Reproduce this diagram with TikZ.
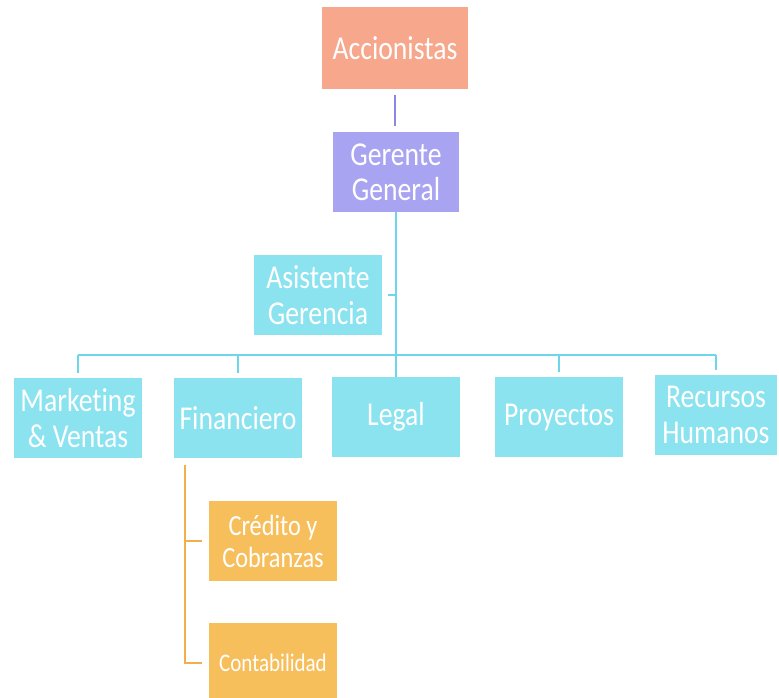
\documentclass[tikz,border=0pt]{standalone}
\usepackage{fontspec}
\setmainfont{Carlito}[FakeStretch=0.83, Ligatures=NoCommon]
\definecolor{salmon}{HTML}{F6A78C}
\definecolor{lav}{HTML}{A9A4F2}
\definecolor{cy}{HTML}{8CE3F0}
\definecolor{org}{HTML}{F7BE5C}
\definecolor{lav line}{HTML}{8C86E6}
\definecolor{cy line}{HTML}{6ED6EA}
\definecolor{org line}{HTML}{F2B04A}
\begin{document}
\begin{tikzpicture}[x=0.75pt,y=-0.75pt,
  box/.style={draw=none, text=white, align=center, inner sep=0pt,
    minimum width=96pt, minimum height=60pt,
    font=\fontsize{25}{26.5}\selectfont},
  cbox/.style={box, fill=cy},
  obox/.style={box, fill=org},
  cl/.style={draw=cy line, line width=1.5pt},
  pl/.style={draw=lav line, line width=1.5pt},
  ol/.style={draw=org line, line width=1.5pt}]
\useasboundingbox (0,0) rectangle (779,698);
\fill[white] (0,0) rectangle (779,698);

\node[box, fill=salmon, minimum width=109pt, minimum height=61pt] (acc) at (395,48) {Accionistas};
\node[box, fill=lav, minimum width=95pt] (ger) at (396,172) {Gerente\\General};
\node[cbox] (asi) at (318,295) {Asistente\\Gerencia};

\node[cbox] (mkt) at (78,418) {Marketing\\\&~Ventas};
\node[cbox] (fin) at (238,418) {Financiero};
\node[cbox] (leg) at (396,417) {Legal};
\node[cbox] (pro) at (559,417) {Proyectos};
\node[cbox, minimum width=92pt] (rrh) at (716,415) {Recursos\\Humanos};

\node[obox, font=\fontsize{22}{24}\selectfont] (cre) at (273,541) {Crédito y\\Cobranzas};
\node[obox, font=\fontsize{19}{21}\selectfont] (con) at (273,663) {Contabilidad};

% purple connector
\draw[pl, shorten <=4.5pt, shorten >=4pt] (acc.south) -- (acc.south |- ger.north);

% main cyan line
\coordinate (bar) at (396,355);
\draw[cl] (ger.south) -- (leg.north);
\draw[cl] (mkt.north |- bar) -- (rrh.north |- bar);
\foreach \n in {mkt,fin,pro,rrh}
  \draw[cl, shorten >=3.5pt] (\n.north |- bar) -- (\n.north);
\draw[cl, shorten <=4.5pt] (asi.east) -- (asi.east -| ger.south);

% orange connectors
\coordinate (ot) at (185,465);
\draw[ol] (ot) |- ([xshift=-5pt]con.west);
\draw[ol] (ot |- cre.west) -- ([xshift=-5pt]cre.west);
\end{tikzpicture}
\end{document}
